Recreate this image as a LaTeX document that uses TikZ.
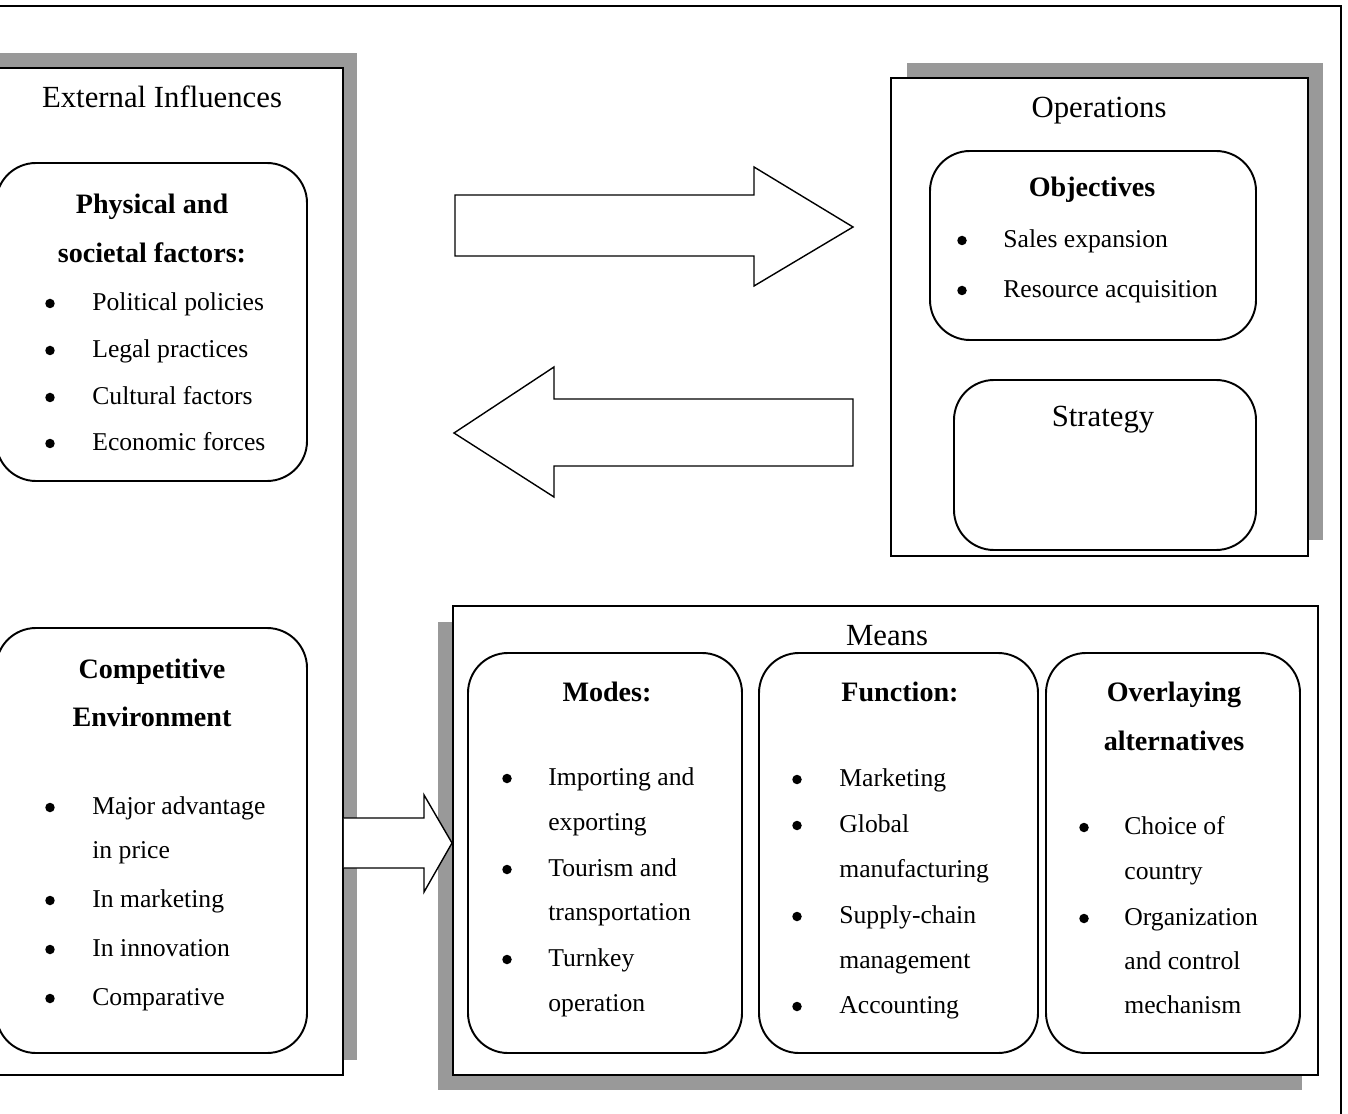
\documentclass[tikz,border=0pt]{standalone}
\usepackage{fontspec}
\setmainfont{Liberation Serif}
\usetikzlibrary{fit,calc}

\tikzset{
  panel/.style={draw, line width=1.1pt, fill=white, inner sep=0pt},
  backshade/.style={fill=black!40},
  card/.style={draw, line width=1.1pt, rounded corners=0.8cm, inner sep=0pt},
  title/.style={font={\fontsize{17.5}{20}\selectfont}, text height=0.75em, text depth=0.25em, inner sep=0pt, yshift=-0.1cm},
  head/.style={font={\fontsize{16}{19}\selectfont\bfseries}, text height=0.75em, text depth=0.25em, inner sep=0pt, yshift=-0.1cm},
  item/.style={font={\fontsize{14.6}{17}\selectfont}, anchor=west, text height=0.75em, text depth=0.25em, inner sep=0pt, yshift=-0.1cm},
  dot/.style={circle, fill, inner sep=0pt, minimum size=0.19cm, yshift=-0.05cm},
  blockarrow/.style={draw, line width=0.8pt, fill=white, line join=miter},
}

\begin{document}
\begin{tikzpicture}[x=0.02cm, y=-0.02cm]
  \useasboundingbox (0,0) rectangle (1348,1114);

  % page frame
  \draw[line width=1.2pt] (-10,6) -- (1341,6) -- (1341,1124);

  % shadows behind the three panels
  \fill[backshade] (-10,53) rectangle (357,1060);
  \fill[backshade] (907,63) rectangle (1323,540);
  \fill[backshade] (438,622) rectangle (1302,1090);

  % panels
  \node[panel, fit={(-10,68) (343,1075)}] (ext) {};
  \node[panel, fit={(891,78) (1308,556)}] (ops) {};
  \node[panel, fit={(453,606) (1318,1075)}] (means) {};

  \node[title] (ext-t) at (162,98) {External Influences};
  \node[title] (ops-t) at (1099,108) {Operations};
  \node[title] (means-t) at (887,636) {Means};

  % rounded cards
  \node[card, fit={(-4,163) (307,481)}] (phys) {};
  \node[card, fit={(-4,628) (307,1053)}] (comp) {};
  \node[card, fit={(930,151) (1256,340)}] (obj) {};
  \node[card, fit={(954,380) (1256,550)}] (strat) {};
  \node[card, fit={(468,653) (742,1053)}] (modes) {};
  \node[card, fit={(759,653) (1038,1053)}] (func) {};
  \node[card, fit={(1046,653) (1300,1053)}] (over) {};

  % physical and societal factors
  \node[head] (phys-h1) at (152,204) {Physical and};
  \node[head] (phys-h2) at (152,253) {societal factors:};
  \foreach \y/\t [count=\i] in {301/Political policies, 348/Legal practices,
      395/Cultural factors, 441/Economic forces} {
    \node[dot] (phys-b\i) at (50,\y) {};
    \node[item] (phys-\i) at (92,\y) {\t};
  }

  % competitive environment
  \node[head] (comp-h1) at (152,669) {Competitive};
  \node[head] (comp-h2) at (152,717) {Environment};
  \foreach \y/\t [count=\i] in {805/Major advantage, 849/in price,
      898/In marketing, 947/In innovation, 996/Comparative}
    \node[item] (comp-\i) at (92,\y) {\t};
  \foreach \y [count=\i] in {805,898,947,996}
    \node[dot] (comp-b\i) at (50,\y) {};

  % objectives and strategy
  \node[head] (obj-h) at (1092,187) {Objectives};
  \foreach \y/\t [count=\i] in {238/Sales expansion, 288/Resource acquisition} {
    \node[dot] (obj-b\i) at (962,\y) {};
    \node[item] (obj-\i) at (1003,\y) {\t};
  }
  \node[title] (strat-t) at (1103,417) {Strategy};

  % modes
  \node[head] (modes-h) at (607,692) {Modes:};
  \foreach \y/\t [count=\i] in {776/Importing and, 821/exporting, 867/Tourism and,
      911/transportation, 957/Turnkey, 1002/operation}
    \node[item] (modes-\i) at (548,\y) {\t};
  \foreach \y [count=\i] in {776,867,957}
    \node[dot] (modes-b\i) at (507,\y) {};

  % function
  \node[head] (func-h) at (900,692) {Function:};
  \foreach \y/\t [count=\i] in {777/Marketing, 823/Global, 868/manufacturing,
      914/Supply-chain, 959/management, 1004/Accounting}
    \node[item] (func-\i) at (839,\y) {\t};
  \foreach \y [count=\i] in {777,823,914,1004}
    \node[dot] (func-b\i) at (797,\y) {};

  % overlaying alternatives
  \node[head] (over-h1) at (1174,692) {Overlaying};
  \node[head] (over-h2) at (1174,741) {alternatives};
  \foreach \y/\t [count=\i] in {825/Choice of, 870/country, 916/Organization,
      960/and control, 1004/mechanism}
    \node[item] (over-\i) at (1124,\y) {\t};
  \foreach \y [count=\i] in {825,916}
    \node[dot] (over-b\i) at (1084,\y) {};

  % big arrows between external influences and operations
  \draw[blockarrow] (455,195) -- (754,195) -- (754,167) -- (853,227)
    -- (754,286) -- (754,256) -- (455,256) -- cycle;
  \draw[blockarrow] (853,399) -- (554,399) -- (554,367) -- (454,433)
    -- (554,497) -- (554,466) -- (853,466) -- cycle;

  % arrow from external influences into means
  \coordinate (armY) at (0,843);
  \coordinate (armL) at (ext.east |- armY);
  \coordinate (armR) at (means.west |- armY);
  \draw[blockarrow] ($(armL)+(0,-25)$) -- ($(armR)+(-28,-25)$) -- ($(armR)+(-28,-48)$)
    -- (armR) -- ($(armR)+(-28,49)$) -- ($(armR)+(-28,25)$) -- ($(armL)+(0,25)$);
\end{tikzpicture}
\end{document}
